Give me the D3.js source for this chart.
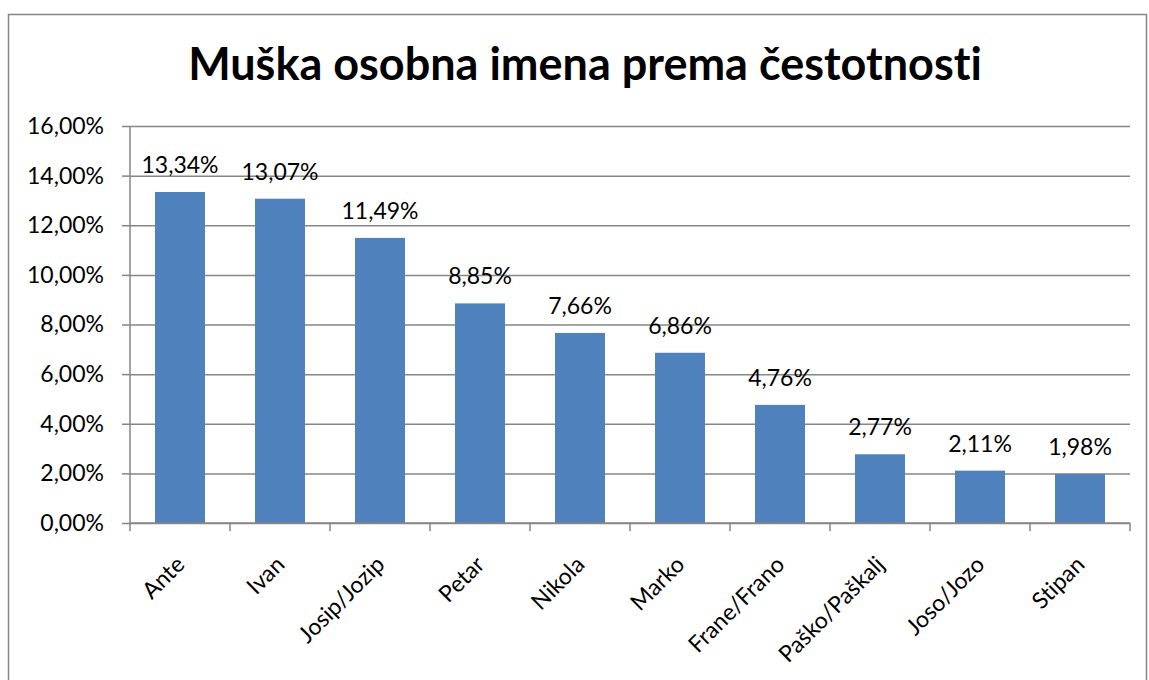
<!DOCTYPE html>
<html>
<head>
<meta charset="utf-8">
<script src="https://cdn.jsdelivr.net/npm/d3@7"></script>
<style>
  body { margin: 0; background: #fff; }
  text { font-family: "Lato", "Open Sans", sans-serif; font-variant-ligatures: none; }
</style>
</head>
<body>
<div id="chart"></div>
<script>
"use strict";

// data
let names = ["Ante", "Ivan", "Josip/Jozip", "Petar", "Nikola", "Marko",
  "Frane/Frano", "Paško/Paškalj", "Joso/Jozo", "Stipan"];
let shares = [13.34, 13.07, 11.49, 8.85, 7.66, 6.86, 4.76, 2.77, 2.11, 1.98];
let yTicks = [0, 2, 4, 6, 8, 10, 12, 14, 16];
let title = "Muška osobna imena prema čestotnosti";

let width = 1149;
let height = 680;
let plot = { left: 130, right: 1130, top: 126, bottom: 523 };

let fmt = v => v.toFixed(2).replace(".", ",") + "%";

let svg = d3.select("#chart")
  .append("svg")
  .attr("width", width)
  .attr("height", height);

// outer frame
svg.append("rect")
  .attr("x", 8.5)
  .attr("y", 14.5)
  .attr("width", 1138)
  .attr("height", 700)
  .attr("fill", "none")
  .attr("stroke", "#868686")
  .attr("stroke-width", 1.5);

// title
svg.append("text")
  .attr("x", 585)
  .attr("y", 80)
  .attr("text-anchor", "middle")
  .style("font-size", "45px")
  .style("font-weight", "bold")
  .text(title);

// scales
let x = d3.scaleBand()
  .domain(names)
  .range([plot.left, plot.right])
  .paddingInner(0.5)
  .paddingOuter(0.25);

let y = d3.scaleLinear()
  .domain([0, 16])
  .range([plot.bottom, plot.top]);

// gridlines + y axis
let yAxis = svg.append("g")
  .attr("transform", `translate(${plot.left},0)`)
  .call(d3.axisLeft(y)
    .tickValues(yTicks)
    .tickSize(8)
    .tickPadding(18)
    .tickFormat(fmt));

yAxis.selectAll(".tick line").clone()
  .attr("x2", plot.right - plot.left);

yAxis.selectAll("line, path").attr("stroke", "#868686").attr("stroke-width", 1.5);
yAxis.select(".domain").attr("d", `M0,${plot.top}V${plot.bottom}`);
yAxis.selectAll("text")
  .style("font-size", "23px")
  .attr("fill", "#000");

// bars
svg.selectAll("rect.bar")
  .data(names)
  .enter()
  .append("rect")
  .attr("class", "bar")
  .attr("x", (d, i) => x(d))
  .attr("y", (d, i) => y(shares[i]))
  .attr("width", x.bandwidth())
  .attr("height", (d, i) => y(0) - y(shares[i]))
  .attr("fill", "#4F81BD");

// x axis (ticks between categories)
let step = x.step();
let xg = svg.append("g");
xg.append("line")
  .attr("x1", plot.left)
  .attr("x2", plot.right)
  .attr("y1", y(0))
  .attr("y2", y(0))
  .attr("stroke", "#868686")
  .attr("stroke-width", 1.5);
xg.selectAll("line.tick")
  .data(d3.range(names.length + 1))
  .enter()
  .append("line")
  .attr("class", "tick")
  .attr("x1", i => plot.left + i * step)
  .attr("x2", i => plot.left + i * step)
  .attr("y1", y(0))
  .attr("y2", y(0) + 8)
  .attr("stroke", "#868686")
  .attr("stroke-width", 1.5);

// category labels
svg.selectAll("text.cat")
  .data(names)
  .enter()
  .append("text")
  .attr("class", "cat")
  .attr("text-anchor", "end")
  .attr("transform", d => `translate(${x(d) + x.bandwidth() / 2 + 6},${y(0) + 43}) rotate(-45)`)
  .style("font-size", "23px")
  .text(d => d);

// value labels
svg.selectAll("text.val")
  .data(names)
  .enter()
  .append("text")
  .attr("class", "val")
  .attr("x", d => x(d) + x.bandwidth() / 2)
  .attr("y", (d, i) => y(shares[i]) - 19)
  .attr("text-anchor", "middle")
  .style("font-size", "23px")
  .text((d, i) => fmt(shares[i]));
</script>
</body>
</html>
